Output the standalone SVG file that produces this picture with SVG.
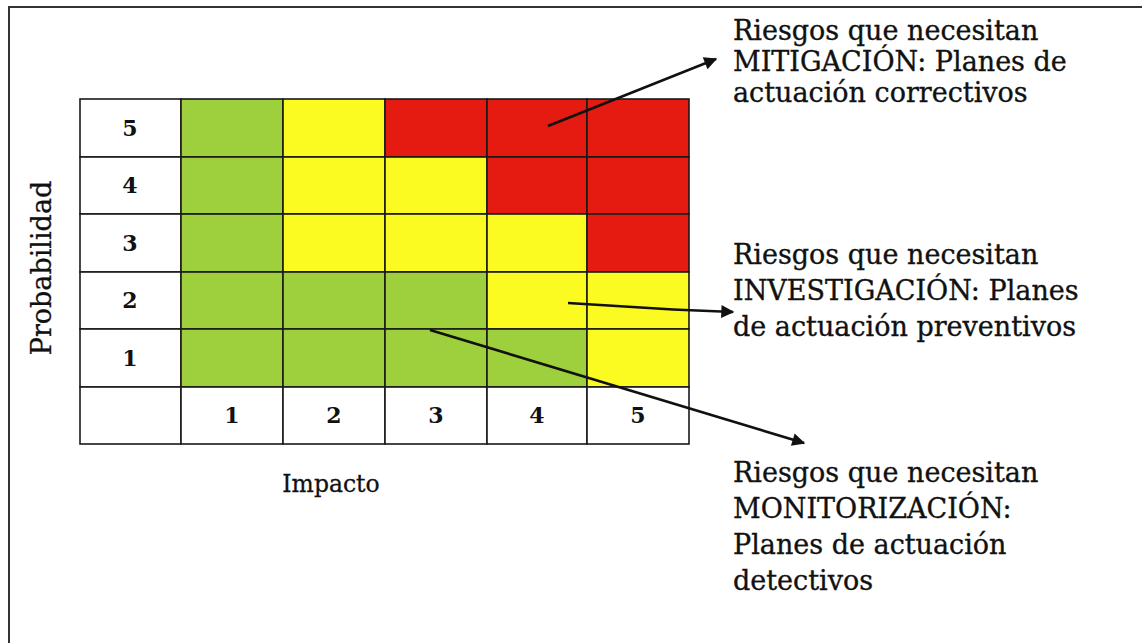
<svg xmlns="http://www.w3.org/2000/svg" width="1142" height="643" viewBox="0 0 1142 643">
<defs>
<style>
.g{fill:#9dd03c}.y{fill:#fbfb22}.r{fill:#e51a10}.w{fill:#ffffff}
.cell{stroke:#1a1a1a;stroke-width:1.6}
.num{font-family:"DejaVu Serif","Liberation Serif",serif;font-size:22px;font-weight:bold;fill:#111;text-anchor:middle;dominant-baseline:central}
.lbl{font-family:"DejaVu Serif","Liberation Serif",serif;fill:#111;stroke:#111;stroke-width:0.3}
.note{font-family:"DejaVu Serif","Liberation Serif",serif;font-size:27px;fill:#111;stroke:#111;stroke-width:0.35}
.arr{fill:none;stroke:#111;stroke-width:2.6;marker-end:url(#ah)}
</style>
<marker id="ah" viewBox="0 0 10 10" refX="9" refY="5" markerWidth="6" markerHeight="5" orient="auto" markerUnits="strokeWidth">
<path d="M0,0 L10,5 L0,10 z" fill="#111"/>
</marker>
</defs>
<rect x="0" y="0" width="1142" height="643" fill="#ffffff"/>
<g id="frame"><rect x="9" y="7" width="1160" height="660" fill="none" stroke="#333" stroke-width="2"/></g>

<g id="matrix">
<rect class="cell w" x="80" y="99" width="101" height="58"/>
<rect class="cell g" x="181" y="99" width="102" height="58"/>
<rect class="cell y" x="283" y="99" width="102" height="58"/>
<rect class="cell r" x="385" y="99" width="102" height="58"/>
<rect class="cell r" x="487" y="99" width="100" height="58"/>
<rect class="cell r" x="587" y="99" width="102" height="58"/>
<rect class="cell w" x="80" y="157" width="101" height="57"/>
<rect class="cell g" x="181" y="157" width="102" height="57"/>
<rect class="cell y" x="283" y="157" width="102" height="57"/>
<rect class="cell y" x="385" y="157" width="102" height="57"/>
<rect class="cell r" x="487" y="157" width="100" height="57"/>
<rect class="cell r" x="587" y="157" width="102" height="57"/>
<rect class="cell w" x="80" y="214" width="101" height="58"/>
<rect class="cell g" x="181" y="214" width="102" height="58"/>
<rect class="cell y" x="283" y="214" width="102" height="58"/>
<rect class="cell y" x="385" y="214" width="102" height="58"/>
<rect class="cell y" x="487" y="214" width="100" height="58"/>
<rect class="cell r" x="587" y="214" width="102" height="58"/>
<rect class="cell w" x="80" y="272" width="101" height="57"/>
<rect class="cell g" x="181" y="272" width="102" height="57"/>
<rect class="cell g" x="283" y="272" width="102" height="57"/>
<rect class="cell g" x="385" y="272" width="102" height="57"/>
<rect class="cell y" x="487" y="272" width="100" height="57"/>
<rect class="cell y" x="587" y="272" width="102" height="57"/>
<rect class="cell w" x="80" y="329" width="101" height="58"/>
<rect class="cell g" x="181" y="329" width="102" height="58"/>
<rect class="cell g" x="283" y="329" width="102" height="58"/>
<rect class="cell g" x="385" y="329" width="102" height="58"/>
<rect class="cell g" x="487" y="329" width="100" height="58"/>
<rect class="cell y" x="587" y="329" width="102" height="58"/>
<rect class="cell w" x="80" y="387" width="101" height="57"/>
<rect class="cell w" x="181" y="387" width="102" height="57"/>
<rect class="cell w" x="283" y="387" width="102" height="57"/>
<rect class="cell w" x="385" y="387" width="102" height="57"/>
<rect class="cell w" x="487" y="387" width="100" height="57"/>
<rect class="cell w" x="587" y="387" width="102" height="57"/>
<text class="num" x="130" y="128">5</text>
<text class="num" x="130" y="185">4</text>
<text class="num" x="130" y="243">3</text>
<text class="num" x="130" y="300">2</text>
<text class="num" x="130" y="358">1</text>
<text class="num" x="232" y="415">1</text>
<text class="num" x="334" y="415">2</text>
<text class="num" x="436" y="415">3</text>
<text class="num" x="537" y="415">4</text>
<text class="num" x="638" y="415">5</text>
</g>

<g id="axis-labels">
<text class="lbl" x="0" y="0" font-size="27" text-anchor="middle" transform="translate(51,268) rotate(-90)">Probabilidad</text>
<text class="lbl" x="331" y="492" font-size="23.5" text-anchor="middle">Impacto</text>
</g>

<g id="note-mitigacion">
<text class="note" x="733" y="40">Riesgos que necesitan</text>
<text class="note" x="733" y="71">MITIGACIÓN: Planes de</text>
<text class="note" x="733" y="102">actuación correctivos</text>
</g>
<g id="note-investigacion">
<text class="note" x="733" y="264">Riesgos que necesitan</text>
<text class="note" x="733" y="300">INVESTIGACIÓN: Planes</text>
<text class="note" x="733" y="336">de actuación preventivos</text>
</g>
<g id="note-monitorizacion">
<text class="note" x="733" y="482">Riesgos que necesitan</text>
<text class="note" x="733" y="518">MONITORIZACIÓN:</text>
<text class="note" x="733" y="554">Planes de actuación</text>
<text class="note" x="733" y="590">detectivos</text>
</g>

<g id="connectors">
<line class="arr" x1="548" y1="126" x2="716" y2="59"/>
<polyline class="arr" points="568,303 673,309.5 733,312"/>
<line class="arr" x1="430" y1="330" x2="804" y2="443"/>
</g>
</svg>
